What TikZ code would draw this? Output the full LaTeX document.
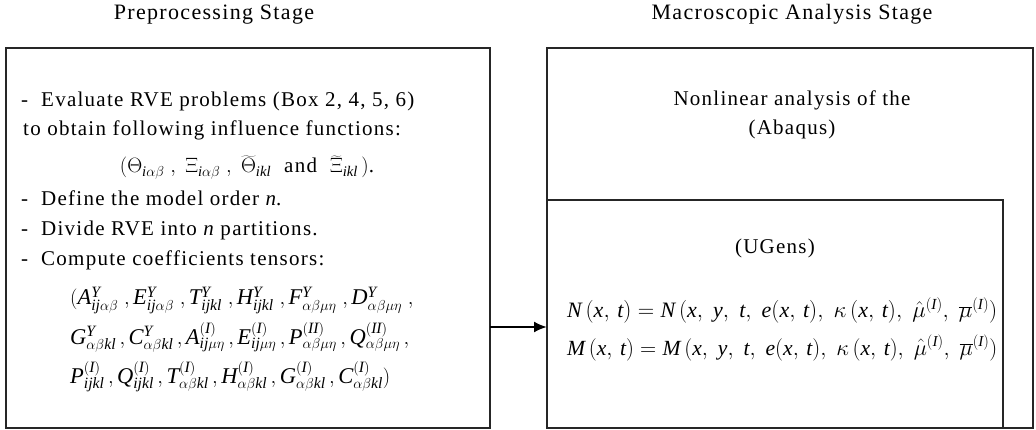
\documentclass[tikz,border=0pt]{standalone}
\usepackage{graphicx}
\usepackage{mathspec}
\setmainfont{Liberation Serif}[LetterSpace=6]
\setmathsfont(Digits,Latin){Liberation Serif}
\usetikzlibrary{arrows.meta}
\tikzset{
  frame/.style={draw=black!85, line width=1.3pt, inner sep=0pt, outer sep=0pt, anchor=north west},
  body/.style={font=\fontsize{21}{25}\selectfont, inner sep=0pt, anchor=base west},
  tens/.style={font=\fontsize{22.5}{27}\selectfont, inner sep=0pt, anchor=base west},
  ctr/.style={font=\fontsize{21}{25}\selectfont, inner sep=0pt, anchor=base},
  eqn/.style={font=\fontsize{24}{28}\selectfont, inner sep=0pt, anchor=base west},
  title/.style={font=\fontsize{22}{26}\selectfont, inner sep=0pt, anchor=base},
  arr/.style={line width=2pt, -{Latex[length=13pt,width=11pt]}}
}
\newcommand{\eqbox}[1]{\resizebox{430pt}{!}{#1}}
\begin{document}
\begin{tikzpicture}[x=1pt,y=-1pt]
\useasboundingbox (0,0) rectangle (1036,430);
% titles
\node[title] (t1) at (214,20) {Preprocessing Stage};
\node[title] (t2) at (792,20) {Macroscopic Analysis Stage};
% boxes
\node[frame, minimum width=484pt, minimum height=380pt] (pre) at (6,48) {};
\node[frame, minimum width=486pt, minimum height=380pt] (macro) at (547,48) {};
\node[frame, minimum width=456pt, minimum height=228pt] (ugen) at (547,200) {};
% left text
\node[body] (l1) at (21,107) {-\ \ Evaluate RVE problems (Box 2, 4, 5, 6)};
\node[body] (l2) at (23,136) {to obtain following influence functions:};
\node[ctr] (l3) at (247,173) {$(\Theta_{i\alpha\beta}\;,\;\Xi_{i\alpha\beta}\;,\;\widetilde{\Theta}_{ikl}$\ \ and\ \ $\widetilde{\Xi}_{ikl}\,)$.};
\node[body] (l4) at (21,206) {-\ \ Define the model order $n$.};
\node[body] (l5) at (21,236) {-\ \ Divide RVE into $n$ partitions.};
\node[body] (l6) at (21,266) {-\ \ Compute coefficients tensors:};
\node[tens] (l7) at (70,305) {$(A^{Y}_{ij\alpha\beta}\;,E^{Y}_{ij\alpha\beta}\;,T^{Y}_{ijkl}\;,H^{Y}_{ijkl}\;,F^{Y}_{\alpha\beta\mu\eta}\;,D^{Y}_{\alpha\beta\mu\eta}\;,$};
\node[tens] (l8) at (70,344) {$G^{Y}_{\alpha\beta kl}\,,C^{Y}_{\alpha\beta kl}\,,A^{(I)}_{ij\mu\eta}\,,E^{(I)}_{ij\mu\eta}\,,P^{(II)}_{\alpha\beta\mu\eta}\,,Q^{(II)}_{\alpha\beta\mu\eta}\,,$};
\node[tens] (l9) at (70,383) {$P^{(I)}_{ijkl}\,,Q^{(I)}_{ijkl}\,,T^{(I)}_{\alpha\beta kl}\,,H^{(I)}_{\alpha\beta kl}\,,G^{(I)}_{\alpha\beta kl}\,,C^{(I)}_{\alpha\beta kl})$};
% right text
\node[ctr] (r1) at (792,106) {Nonlinear analysis of the};
\node[ctr] (r2) at (792,135) {(Abaqus)};
\node[ctr] (r3) at (775,254) {(UGens)};
\node[eqn] (r4) at (567,318) {\eqbox{$N\,(x,\,t) = N\,(x,\;y,\;t,\;e(x,\,t),\;\kappa\,(x,\,t),\;\hat{\mu}^{(I)},\;\overline{\mu}^{(I)})$}};
\node[eqn] (r5) at (567,355) {\eqbox{$M\,(x,\,t) = M\,(x,\;y,\;t,\;e(x,\,t),\;\kappa\,(x,\,t),\;\hat{\mu}^{(I)},\;\overline{\mu}^{(I)})$}};
% arrow
\coordinate (ay) at (0,327);
\draw[arr] (pre.east |- ay) -- (ugen.west |- ay);
\end{tikzpicture}
\end{document}
